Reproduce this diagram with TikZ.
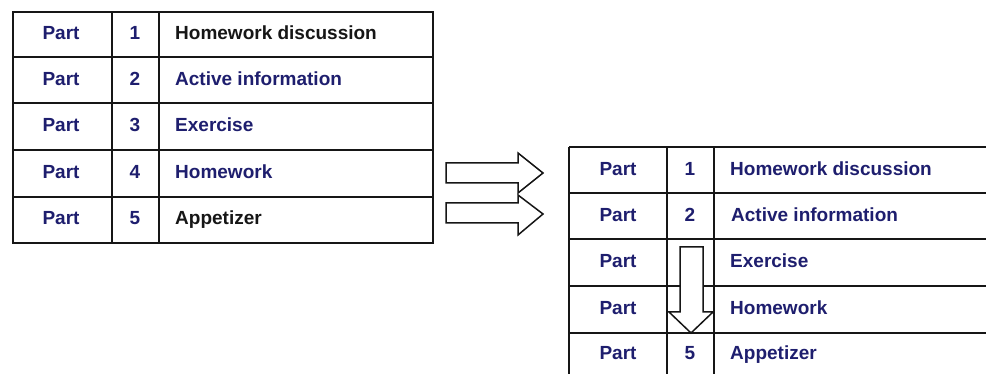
\documentclass[tikz,border=0pt]{standalone}
\usepackage{fontspec}
\setmainfont{Liberation Sans}
\definecolor{navy}{RGB}{30,30,110}
\definecolor{ink}{RGB}{22,22,22}
\begin{document}
\begin{tikzpicture}[x=1pt,y=-1pt,
  grid/.style={line width=1.7pt, draw=ink},
  cell/.style={font=\fontsize{19}{23}\selectfont\bfseries, text=navy, inner sep=0pt,
    text height=13.5pt, text depth=4pt},
  dark/.style={text=ink},
  txt/.style={cell, anchor=west},
  arrowshape/.style={draw=ink, line width=1.5pt, fill=white, line join=miter}]
\useasboundingbox (0,0) rectangle (986,374);
\fill[white] (0,0) rectangle (986,374);
\clip (0,0) rectangle (986,374);
% ---------- left table ----------
\draw[grid] (13,12) rectangle (433,243);
\foreach \y in {57,103,150,197} \draw[grid] (13,\y) -- (433,\y);
\draw[grid] (112,12) -- (112,243);
\draw[grid] (159,12) -- (159,243);
\foreach \i/\y in {1/35,2/81,3/127,4/174,5/220} {
  \node[cell] (lp\i) at (61,\y) {Part};
  \node[cell] (ln\i) at (135,\y) {\i};
}
\node[txt,dark] (lt1) at (175,35) {Homework discussion};
\node[txt] (lt2) at (175,81) {Active information};
\node[txt] (lt3) at (175,127) {Exercise};
\node[txt] (lt4) at (175,174) {Homework};
\node[txt,dark] (lt5) at (175,220) {Appetizer};
% ---------- right table ----------
\foreach \y in {147,193,239,286,333} \draw[grid] (569,\y) -- (995,\y);
\foreach \x in {569,667,714} \draw[grid] (\x,147) -- (\x,385);
\foreach \i/\y in {1/171,2/217,3/263,4/310,5/355} {
  \node[cell] (rp\i) at (618,\y) {Part};
}
\node[cell] (rn1) at (690,171) {1};
\node[cell] (rn2) at (690,217) {2};
\node[cell] (rn5) at (690,355) {5};
\node[txt] (rt1) at (730,171) {Homework discussion};
\node[txt] (rt2) at (731,217) {Active information};
\node[txt] (rt3) at (730,263) {Exercise};
\node[txt] (rt4) at (730,310) {Homework};
\node[txt] (rt5) at (730,355) {Appetizer};
% ---------- block arrows ----------
\draw[arrowshape] (446,163) -- (518,163) -- (518,153) -- (543,173)
  -- (518,193) -- (518,183) -- (446,183) -- cycle;
\draw[arrowshape] (446,203) -- (518,203) -- (518,195) -- (543,214)
  -- (518,235) -- (518,223) -- (446,223) -- cycle;
\draw[arrowshape] (680,247) -- (703,247) -- (703,312) -- (713,312)
  -- (691,333) -- (669,312) -- (680,312) -- cycle;
\end{tikzpicture}
\end{document}
